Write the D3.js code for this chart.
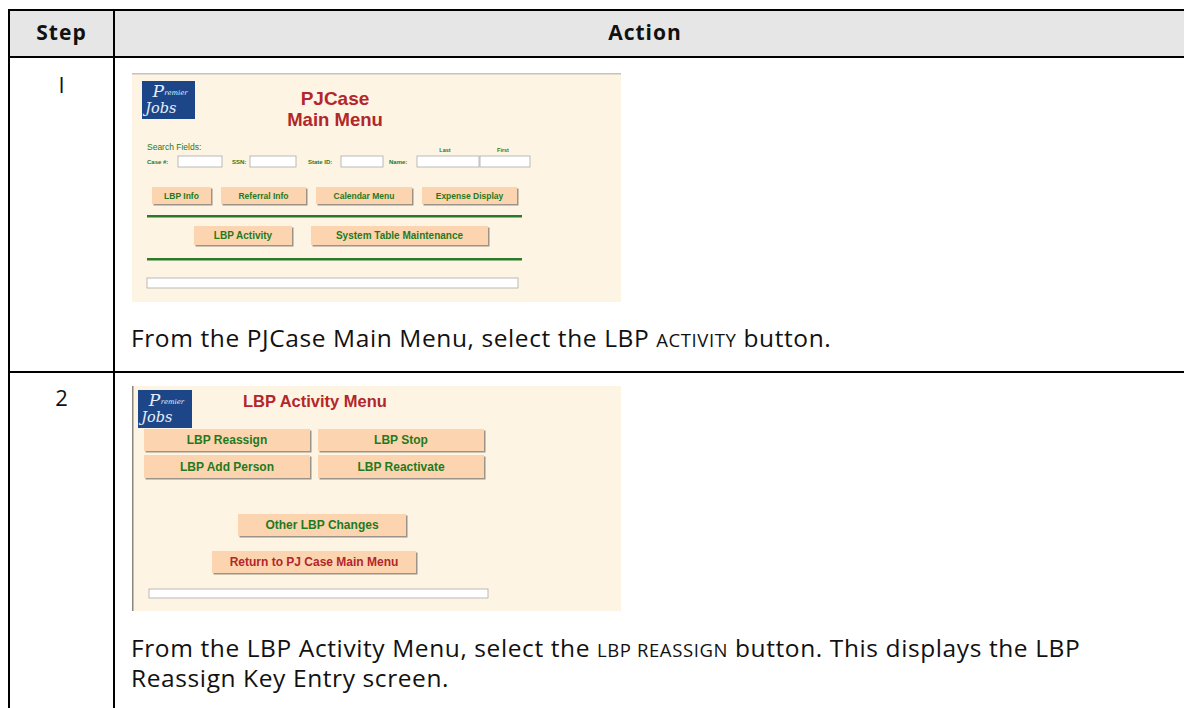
<!DOCTYPE html>
<html><head><meta charset="utf-8">
<script src="https://cdn.jsdelivr.net/npm/d3@7"></script>
<style>
html,body{margin:0;padding:0;background:#fff;}
svg{display:block;}
</style></head>
<body>
<script>
// ---- data ----
const headers = ["Step", "Action"];
const steps = ["1", "2"];
const instructions = [
  [[{t:"From the PJCase Main Menu, select the LBP "},{t:"ACTIVITY",sc:true},{t:" button."}]],
  [[{t:"From the LBP Activity Menu, select the "},{t:"LBP REASSIGN",sc:true},{t:" button. This displays the LBP"}],
   [{t:"Reassign Key Entry screen."}]]
];
const mainMenuTitle = ["PJCase", "Main Menu"];
const searchLabels = ["Case #:", "SSN:", "State ID:", "Name:"];
const nameSubLabels = ["Last", "First"];
const mainButtonsRow1 = ["LBP Info", "Referral Info", "Calendar Menu", "Expense Display"];
const mainButtonsRow2 = ["LBP Activity", "System Table Maintenance"];
const activityTitle = "LBP Activity Menu";
const activityGrid = ["LBP Reassign", "LBP Stop", "LBP Add Person", "LBP Reactivate"];
const activityOther = ["Other LBP Changes"];
const activityReturn = ["Return to PJ Case Main Menu"];

// ---- layout ----
const W = 1184, H = 708;
const svg = d3.select("body").append("svg").attr("width", W).attr("height", H);
const bodyFont = "'Open Sans', 'Noto Sans', sans-serif";
const arial = "'Liberation Sans', Arial, sans-serif";
const tableL = 9, tableR = 1200, colX = 114;
const rowY = [10, 57, 372, 720];

// header fill
svg.append("rect").attr("x", tableL).attr("y", rowY[0]).attr("width", tableR - tableL).attr("height", rowY[1]-rowY[0]).attr("fill", "#e6e6e6");

// header texts
const headerX = [(tableL + colX)/2, (colX + 1176)/2];
svg.selectAll("text.hdr").data(headers).join("text").attr("class","hdr")
  .attr("x", (d,i)=>headerX[i]).attr("y", 40).attr("text-anchor","middle")
  .attr("font-family", bodyFont).attr("font-weight", 700).attr("font-size", 21).attr("letter-spacing", 1)
  .attr("fill","#111").text(d=>d);

// step numbers
const stepY = [93, 406];
svg.selectAll("text.step").data(steps).join("text").attr("class","step")
  .attr("x", headerX[0]).attr("y", (d,i)=>stepY[i]).attr("text-anchor","middle")
  .attr("font-family", bodyFont).attr("font-size", 22).attr("fill","#111")
  .text(d=> d === "1" ? "I" : d);

// instruction texts
const instrY = [[347], [657, 687]];
instructions.forEach((lines, r) => {
  lines.forEach((parts, li) => {
    const t = svg.append("text").attr("x", 131).attr("y", instrY[r][li])
      .attr("font-family", bodyFont).attr("font-size", 24.5).attr("letter-spacing", 0.6).attr("fill","#111");
    t.selectAll("tspan").data(parts).join("tspan")
      .attr("font-size", d => d.sc ? 18.5 : 24.5).text(d => d.t);
  });
});

// ---- screenshot helpers ----
const bg = "#fdf4e3", btnFill = "#fcd5b0", green = "#1f7a1f", red = "#b3262a";

function logo(g, x, y, w, h) {
  g.append("rect").attr("x", x).attr("y", y).attr("width", w).attr("height", h).attr("fill", "#1d4688");
  g.append("text").attr("x", x + w*0.2).attr("y", y + h*0.42).attr("font-family","'DejaVu Serif', serif")
    .attr("font-style","italic").attr("font-size", h*0.45).attr("fill","#e8eef8").text("P");
  g.append("text").attr("x", x + w*0.42).attr("y", y + h*0.38).attr("font-family","'DejaVu Serif', serif")
    .attr("font-style","italic").attr("font-size", h*0.18).attr("fill","#e8eef8").text("remier");
  g.append("text").attr("x", x + w*0.06).attr("y", y + h*0.85).attr("font-family","'DejaVu Serif', serif")
    .attr("font-style","italic").attr("font-size", h*0.38).attr("fill","#e8eef8").text("Jobs");
}
function buttons(g, data, xs, ws, y, h, fs, color) {
  const b = g.selectAll(null).data(data).join("g");
  b.append("rect").attr("x", (d,i)=>xs[i]+1.5).attr("y", y+1.5).attr("width",(d,i)=>ws[i]).attr("height", h).attr("fill","#9c9488");
  b.append("rect").attr("x", (d,i)=>xs[i]).attr("y", y).attr("width",(d,i)=>ws[i]).attr("height", h).attr("fill",btnFill);
  b.append("text").attr("x",(d,i)=>xs[i]+ws[i]/2).attr("y", y + h/2 + fs*0.36).attr("text-anchor","middle")
    .attr("font-family", arial).attr("font-weight",700).attr("font-size", fs).attr("fill", color).text(d=>d);
  return b;
}
function field(g, x, y, w, h) {
  g.append("rect").attr("x", x).attr("y", y).attr("width", w).attr("height", h).attr("fill","#fff")
    .attr("stroke","#aaa").attr("stroke-width",0.8);
}

// ---- screenshot 1 ----
const s1 = svg.append("g");
s1.append("rect").attr("x",132).attr("y",73).attr("width",489).attr("height",229).attr("fill",bg);
s1.append("rect").attr("x",132).attr("y",73).attr("width",489).attr("height",1.5).attr("fill","#c8c2b8");
logo(s1, 142, 81, 53, 38);
s1.selectAll("text.t1").data(mainMenuTitle).join("text").attr("class","t1")
  .attr("x", 335).attr("y",(d,i)=>105 + i*21).attr("text-anchor","middle")
  .attr("font-family", arial).attr("font-weight",700).attr("font-size",(d,i)=>i?18.5:19).attr("fill",red).text(d=>d);
s1.append("text").attr("x",147).attr("y",150).attr("font-family",arial).attr("font-size",8.5).attr("fill",green).text("Search Fields:");
const labX = [147, 232, 308, 389], boxX = [178, 250, 341, 417], boxW = [44, 46, 42, 62];
s1.selectAll("text.sl").data(searchLabels).join("text").attr("class","sl")
  .attr("x",(d,i)=>labX[i]).attr("y",164).attr("font-family",arial).attr("font-weight",700).attr("font-size",6).attr("fill",green).text(d=>d);
searchLabels.forEach((d,i)=> field(s1, boxX[i], 156, boxW[i], 11));
field(s1, 480, 156, 50, 11);
s1.selectAll("text.nl").data(nameSubLabels).join("text").attr("class","nl")
  .attr("x",(d,i)=>[445,503][i]).attr("y",152).attr("text-anchor","middle").attr("font-family",arial).attr("font-weight",700)
  .attr("font-size",5.5).attr("fill",green).text(d=>d);
buttons(s1, mainButtonsRow1, [152,221,316,422], [59,85,96,95], 187, 17, 8.5, green);
s1.append("rect").attr("x",147).attr("y",215).attr("width",375).attr("height",2.5).attr("fill","#2a7a2a");
buttons(s1, mainButtonsRow2, [194,311], [98,177], 226, 19, 10, green);
s1.append("rect").attr("x",147).attr("y",258).attr("width",375).attr("height",2.5).attr("fill","#2a7a2a");
field(s1, 147, 278, 371, 10);

// ---- screenshot 2 ----
const s2 = svg.append("g");
s2.append("rect").attr("x",132).attr("y",386).attr("width",489).attr("height",225).attr("fill",bg);
s2.append("rect").attr("x",132).attr("y",386).attr("width",1.5).attr("height",225).attr("fill","#8a8680");
logo(s2, 138, 390, 54, 38);
s2.append("text").attr("x",243).attr("y",407).attr("font-family",arial).attr("font-weight",700).attr("font-size",16.5).attr("fill",red).text(activityTitle);
buttons(s2, activityGrid.slice(0,2), [144,318], [166,166], 429, 22, 12, green);
buttons(s2, activityGrid.slice(2,4), [144,318], [166,166], 455, 23, 12, green);
buttons(s2, activityOther, [238], [168], 514, 22, 12, green);
buttons(s2, activityReturn, [212], [204], 551, 22, 12, red);
field(s2, 149, 589, 339, 9);

// ---- grid lines ----
const lineG = svg.append("g").attr("stroke","#000").attr("stroke-width",2);
rowY.slice(0,3).forEach(y => lineG.append("line").attr("x1", tableL-1).attr("x2", tableR).attr("y1", y).attr("y2", y));
lineG.append("line").attr("x1", tableL).attr("x2", tableL).attr("y1", rowY[0]-1).attr("y2", H);
lineG.append("line").attr("x1", colX).attr("x2", colX).attr("y1", rowY[0]-1).attr("y2", H);
</script>
</body></html>
